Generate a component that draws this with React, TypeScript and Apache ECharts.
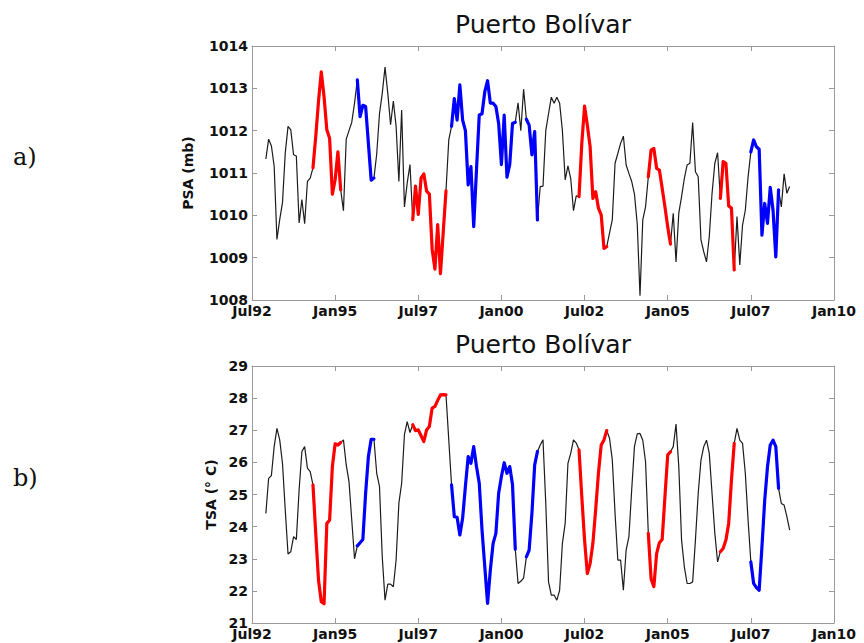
import React, { useEffect, useRef } from 'react'
import * as echarts from 'echarts'

// months counted from Jul 1992; the record starts in Dec 1992
const firstMonth = 5
const tickLabels = ['Jul92', 'Jan95', 'Jul97', 'Jan00', 'Jul02', 'Jan05', 'Jul07', 'Jan10']

// sea level pressure (mb), monthly
const psa = [
  1011.33, 1011.8, 1011.64, 1011.16, 1009.43, 1009.9, 1010.3, 1011.47, 1012.1, 1012.02,
  1011.43, 1011.4, 1009.82, 1010.37, 1009.8, 1010.8, 1010.88, 1011.12, 1011.86, 1012.7,
  1013.39, 1012.8, 1012.02, 1011.82, 1010.5, 1010.84, 1011.5, 1010.6, 1010.11, 1011.8,
  1012.0, 1012.2, 1012.65, 1013.2, 1012.33, 1012.6, 1012.57, 1011.7, 1010.83, 1010.88,
  1011.45, 1012.4, 1012.88, 1013.5, 1012.88, 1012.14, 1012.7, 1012.1, 1010.8, 1012.49,
  1010.2, 1010.76, 1011.2, 1009.9, 1010.69, 1010.02, 1010.88, 1010.98, 1010.57, 1010.5,
  1009.2, 1008.73, 1009.78, 1008.62, 1009.6, 1010.58, 1011.78, 1012.1, 1012.76, 1012.25,
  1013.08, 1012.25, 1012.0, 1010.72, 1011.15, 1009.73, 1011.07, 1012.37, 1012.4, 1012.92,
  1013.18, 1012.65, 1012.65, 1012.57, 1012.17, 1011.2, 1012.37, 1010.9, 1011.2, 1012.17,
  1012.2, 1012.66, 1012.0, 1012.98, 1012.27, 1012.13, 1011.43, 1011.98, 1009.89, 1010.68,
  1010.69, 1012.0, 1012.4, 1012.79, 1012.65, 1012.79, 1012.65, 1012.0, 1010.84, 1011.17,
  1010.87, 1010.11, 1010.46, 1010.44, 1011.7, 1012.58, 1012.13, 1011.62, 1010.4, 1010.56,
  1010.17, 1010.01, 1009.22, 1009.26, 1009.58, 1009.89, 1011.23, 1011.46, 1011.7, 1011.87,
  1011.19, 1010.99, 1010.8, 1010.5, 1009.8, 1008.1, 1009.89, 1010.2, 1010.91, 1011.54,
  1011.58, 1011.11, 1011.07, 1010.64, 1010.2, 1009.73, 1009.32, 1010.05, 1008.9, 1010.05,
  1010.44, 1010.87, 1011.19, 1011.23, 1012.19, 1011.03, 1010.91, 1009.42, 1009.14, 1008.9,
  1009.5, 1010.52, 1011.23, 1011.48, 1010.4, 1011.27, 1011.23, 1010.22, 1010.17, 1008.71,
  1009.97, 1008.83, 1009.77, 1010.12, 1010.91, 1011.5, 1011.78, 1011.62, 1011.56, 1009.53,
  1010.28, 1009.81, 1010.66, 1010.12, 1009.02, 1010.6, 1010.2, 1010.98, 1010.52, 1010.68
]

// sea surface temperature (°C), monthly
const tsa = [
  24.41, 25.5, 25.59, 26.49, 27.06, 26.7, 25.97, 24.52, 23.15, 23.22,
  23.69, 23.6, 25.14, 26.34, 26.49, 25.82, 25.71, 25.3, 23.79, 22.33,
  21.66, 21.6, 24.1, 24.2, 25.87, 26.58, 26.54, 26.62, 26.7, 25.92,
  25.4, 24.2, 23.0, 23.4, 23.5, 23.6, 25.04, 26.18, 26.72, 26.72,
  25.66, 25.25, 23.06, 21.71, 22.21, 22.21, 22.13, 22.96, 24.73, 25.35,
  26.86, 27.27, 26.93, 27.17, 26.99, 27.01, 26.83, 26.65, 27.01, 27.12,
  27.69, 27.74, 27.93, 28.1, 28.11, 28.1, 26.7, 25.3, 24.31, 24.29,
  23.74, 24.26, 25.25, 26.18, 25.97, 26.49, 25.87, 25.35, 23.89, 22.75,
  21.61, 22.65, 23.48, 23.79, 25.04, 25.56, 25.99, 25.66, 25.87, 25.3,
  23.3, 22.23, 22.3, 22.4, 23.06, 23.27, 24.41, 25.92, 26.34, 26.54,
  26.7, 24.73, 22.28, 21.87, 21.87, 21.71, 22.02, 23.48, 24.1, 25.97,
  26.28, 26.7, 26.6, 26.39, 24.93, 23.58, 22.54, 22.85, 23.48, 24.52,
  25.66, 26.54, 26.7, 26.99, 26.75, 26.08, 24.41, 22.96, 22.96, 22.02,
  23.27, 23.69, 25.14, 26.49, 26.89, 26.9, 26.69, 26.02, 23.79, 22.38,
  22.13, 23.16, 23.5, 23.6, 24.93, 26.23, 26.33, 26.49, 27.19, 25.86,
  23.58, 22.75, 22.23, 22.23, 22.28, 23.58, 25.03, 26.07, 26.49, 26.69,
  26.28, 25.03, 23.79, 22.9, 23.22, 23.32, 23.58, 24.1, 25.45, 26.59,
  27.06, 26.69, 26.59, 25.66, 24.2, 22.9, 22.23, 22.1, 22.02, 23.37,
  24.82, 25.86, 26.54, 26.69, 26.49, 25.19, 24.72, 24.67, 24.31, 23.89
]

// highlighted periods (month indices, inclusive)
const redSpans = [[22, 32], [58, 70], [118, 128], [143, 151], [169, 174]]
const blueSpans = [[38, 44], [72, 95], [99, 103], [180, 190]]

const tickFont = { fontFamily: 'DejaVu Sans', fontWeight: 'bold' as const, fontSize: 14, color: '#111' }

const App: React.FC = () => {
  const chartRef = useRef<HTMLDivElement>(null)

  useEffect(() => {
    if (!chartRef.current) return
    const chart = echarts.init(chartRef.current, undefined, { renderer: 'svg' })

    const panels = [
      { values: psa, min: 1008, max: 1014, name: 'PSA (mb)', nameGap: 57, top: 46, height: 254 },
      { values: tsa, min: 21, max: 29, name: 'TSA (° C)', nameGap: 31, top: 366, height: 257 }
    ]

    const grid: any[] = []
    const xAxis: any[] = []
    const yAxis: any[] = []
    const series: any[] = []
    const boxLine = { show: true, onZero: false, lineStyle: { color: '#9a9a9a', width: 1 } }
    const inTick = { show: true, inside: true, length: 5, lineStyle: { color: '#9a9a9a' } }

    panels.forEach((p, g) => {
      grid.push({ left: 252, top: p.top, width: 582, height: p.height })
      xAxis.push({
        gridIndex: g, type: 'value', min: 0, max: 210, interval: 30, position: 'bottom',
        axisLine: boxLine, axisTick: inTick, splitLine: { show: false },
        axisLabel: { ...tickFont, margin: 4, showMinLabel: true, showMaxLabel: true,
          formatter: (v: number) => tickLabels[Math.round(v / 30)] }
      })
      xAxis.push({
        gridIndex: g, type: 'value', min: 0, max: 210, interval: 30, position: 'top',
        axisLine: boxLine, axisTick: inTick, axisLabel: { show: false }, splitLine: { show: false }
      })
      yAxis.push({
        gridIndex: g, type: 'value', min: p.min, max: p.max, interval: 1, position: 'left',
        name: p.name, nameLocation: 'middle', nameGap: p.nameGap,
        nameTextStyle: { fontFamily: 'DejaVu Sans', fontWeight: 'bold', fontSize: 14, color: '#111' },
        axisLine: boxLine, axisTick: inTick, splitLine: { show: false },
        axisLabel: { ...tickFont, margin: 4, formatter: (v: number) => String(v) }
      })
      yAxis.push({
        gridIndex: g, type: 'value', min: p.min, max: p.max, interval: 1, position: 'right',
        axisLine: boxLine, axisTick: inTick, axisLabel: { show: false }, splitLine: { show: false }
      })

      const pairs = p.values.map((v, i) => [firstMonth + i, v])
      series.push({
        type: 'line', xAxisIndex: g * 2, yAxisIndex: g * 2, data: pairs,
        showSymbol: false, lineStyle: { color: '#1c1c1c', width: 1.2 }, z: 2
      })
      const addSpans = (spans: number[][], color: string) => {
        spans.forEach(([a, b]) => {
          series.push({
            type: 'line', xAxisIndex: g * 2, yAxisIndex: g * 2,
            data: pairs.slice(a - firstMonth, b - firstMonth + 1),
            showSymbol: false, lineStyle: { color, width: 3.2, cap: 'round', join: 'round' }, z: 3
          })
        })
      }
      addSpans(redSpans, '#ff0000')
      addSpans(blueSpans, '#0000ff')
    })

    const titleStyle = { text: 'Puerto Bolívar', fontFamily: 'DejaVu Sans', fontSize: 25, fill: '#111', align: 'center', verticalAlign: 'middle' }
    const tagStyle = { fontFamily: 'DejaVu Serif', fontSize: 24, fill: '#111', align: 'left', verticalAlign: 'middle' }

    chart.setOption({
      animation: false,
      backgroundColor: '#fff',
      grid,
      xAxis,
      yAxis,
      series,
      graphic: [
        { type: 'text', x: 543, y: 24, style: titleStyle },
        { type: 'text', x: 543, y: 344, style: titleStyle },
        { type: 'text', x: 13, y: 157, style: { ...tagStyle, text: 'a)' } },
        { type: 'text', x: 13, y: 478, style: { ...tagStyle, text: 'b)' } }
      ]
    })

    return () => {
      chart.dispose()
    }
  }, [])

  return (
    <div
      ref={chartRef}
      style={{ position: 'fixed', left: 0, top: 0, width: '864px', height: '643px', background: '#fff' }}
    />
  )
}

export default App
